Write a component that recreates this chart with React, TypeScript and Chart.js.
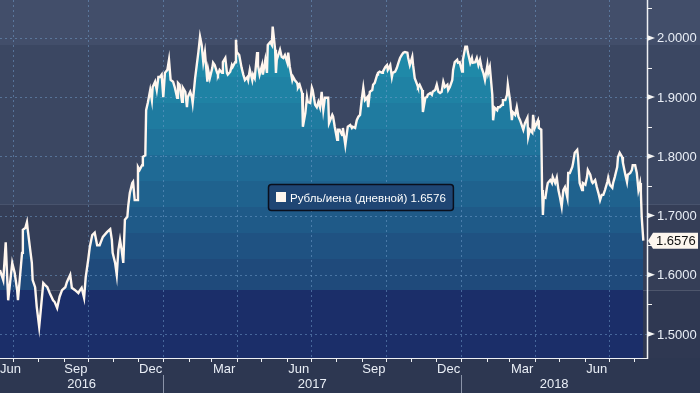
import React, { useEffect, useRef } from 'react';
import { Chart, registerables } from 'chart.js';

Chart.register(...registerables);

// ---- DATA ----
// day offsets counted from 15 Jun 2016
const DAYS = [
  0, 4, 6, 7, 10, 15, 18, 21, 22, 27, 28, 31, 33, 34, 37, 39, 40, 43, 45, 48,
  50, 53, 55, 58, 61, 65, 67, 70, 73, 76, 80, 82, 86, 88, 92, 96, 98, 100, 103, 105,
  108, 110, 113, 116, 119, 122, 126, 131, 135, 137, 138, 141, 143, 145, 147, 149, 151, 153, 156, 157,
  159, 162, 163, 165, 168, 169, 171, 174, 175, 178, 179, 181, 184, 186, 187, 190, 192, 194, 196, 198,
  200, 202, 205, 207, 209, 212, 214, 217, 218, 220, 223, 224, 227, 229, 230, 233, 235, 236, 239, 241,
  243, 245, 247, 249, 251, 254, 255, 257, 260, 261, 263, 266, 267, 269, 272, 273, 276, 278, 279, 282,
  284, 285, 288, 289, 290, 293, 296, 298, 300, 303, 304, 306, 309, 310, 312, 315, 316, 318, 321, 322,
  325, 327, 328, 331, 333, 334, 337, 338, 339, 343, 345, 347, 349, 352, 353, 355, 358, 359, 361, 364,
  365, 367, 370, 371, 374, 376, 377, 380, 382, 383, 386, 388, 390, 392, 394, 396, 398, 401, 402, 403,
  407, 408, 410, 413, 414, 416, 419, 420, 423, 425, 426, 429, 431, 432, 435, 437, 439, 441, 443, 445,
  447, 450, 451, 453, 456, 457, 459, 462, 463, 465, 468, 469, 472, 474, 475, 478, 480, 481, 484, 486,
  488, 490, 492, 494, 496, 499, 500, 502, 505, 506, 508, 511, 512, 514, 517, 518, 521, 523, 524, 527,
  529, 530, 533, 535, 537, 539, 541, 543, 545, 548, 549, 551, 554, 555, 557, 560, 561, 563, 566, 567,
  570, 572, 573, 576, 578, 579, 582, 584, 586, 588, 590, 592, 594, 597, 598, 600, 603, 604, 606, 609,
  610, 612, 615, 616, 619, 621, 622, 625, 627, 628, 631, 633, 635, 637, 639, 641, 643, 646, 647, 649,
  652, 653, 655, 658, 659, 660, 663, 664, 665, 666, 668, 670, 671, 674, 676, 677, 680, 682, 684, 686,
  688, 690, 692, 695, 696, 698, 701, 702, 704, 707, 708, 710, 713, 714, 717, 719, 720, 723, 725, 726,
  729, 731, 733, 735, 737, 739, 741, 744, 745, 747, 750, 751, 753, 756, 757, 759, 762, 763, 766, 768,
  769, 772, 774, 775, 778, 780, 782, 784, 785, 786, 788,
];

const RATE = [
  1.608, 1.591, 1.633, 1.655, 1.557, 1.620, 1.603, 1.574, 1.557, 1.637, 1.676, 1.679, 1.689, 1.676, 1.642, 1.620, 1.591, 1.579, 1.546, 1.512,
  1.541, 1.586, 1.583, 1.579, 1.569, 1.557, 1.554, 1.544, 1.563, 1.574, 1.579, 1.588, 1.600, 1.578, 1.574, 1.569, 1.574, 1.578, 1.561, 1.596,
  1.625, 1.647, 1.667, 1.671, 1.650, 1.650, 1.664, 1.672, 1.677, 1.659, 1.637, 1.620, 1.600, 1.642, 1.659, 1.642, 1.620, 1.693, 1.698, 1.715,
  1.738, 1.755, 1.757, 1.726, 1.726, 1.782, 1.777, 1.785, 1.799, 1.802, 1.878, 1.890, 1.912, 1.895, 1.917, 1.926, 1.912, 1.934, 1.934, 1.938,
  1.900, 1.941, 1.946, 1.963, 1.929, 1.926, 1.917, 1.899, 1.924, 1.921, 1.892, 1.916, 1.909, 1.883, 1.900, 1.909, 1.900, 1.890, 1.932, 1.954,
  1.976, 2.002, 1.988, 1.959, 1.976, 1.926, 1.946, 1.932, 1.949, 1.958, 1.954, 1.941, 1.938, 1.946, 1.941, 1.959, 1.966, 1.941, 1.938, 1.943,
  1.954, 1.951, 1.959, 1.997, 1.976, 1.971, 1.949, 1.938, 1.929, 1.934, 1.929, 1.946, 1.929, 1.938, 1.932, 1.976, 1.954, 1.938, 1.954, 1.938,
  1.963, 1.941, 1.988, 1.993, 1.988, 2.019, 1.980, 1.941, 1.963, 1.980, 1.968, 1.966, 1.971, 1.958, 1.975, 1.951, 1.929, 1.934, 1.929, 1.924,
  1.916, 1.921, 1.907, 1.850, 1.873, 1.900, 1.892, 1.890, 1.916, 1.912, 1.887, 1.883, 1.892, 1.883, 1.909, 1.878, 1.899, 1.899, 1.899, 1.856,
  1.870, 1.867, 1.850, 1.828, 1.845, 1.845, 1.836, 1.848, 1.819, 1.840, 1.850, 1.853, 1.848, 1.850, 1.848, 1.861, 1.867, 1.870, 1.895, 1.916,
  1.895, 1.900, 1.883, 1.909, 1.912, 1.921, 1.924, 1.938, 1.941, 1.943, 1.941, 1.943, 1.951, 1.954, 1.946, 1.954, 1.934, 1.941, 1.943, 1.949,
  1.958, 1.966, 1.971, 1.975, 1.976, 1.975, 1.966, 1.954, 1.968, 1.954, 1.932, 1.921, 1.917, 1.921, 1.912, 1.875, 1.899, 1.900, 1.904, 1.907,
  1.904, 1.909, 1.912, 1.921, 1.909, 1.907, 1.909, 1.926, 1.917, 1.921, 1.912, 1.917, 1.929, 1.946, 1.959, 1.963, 1.958, 1.959, 1.943, 1.963,
  1.985, 1.985, 1.976, 1.958, 1.966, 1.958, 1.959, 1.966, 1.954, 1.963, 1.949, 1.941, 1.929, 1.954, 1.941, 1.951, 1.904, 1.861, 1.882, 1.878,
  1.883, 1.883, 1.887, 1.895, 1.895, 1.904, 1.921, 1.892, 1.861, 1.875, 1.870, 1.883, 1.867, 1.861, 1.853, 1.845, 1.856, 1.865, 1.833, 1.845,
  1.840, 1.870, 1.848, 1.858, 1.861, 1.848, 1.845, 1.743, 1.701, 1.731, 1.730, 1.748, 1.755, 1.760, 1.755, 1.765, 1.755, 1.764, 1.743, 1.730,
  1.715, 1.743, 1.748, 1.730, 1.772, 1.772, 1.782, 1.789, 1.806, 1.811, 1.799, 1.755, 1.743, 1.755, 1.752, 1.765, 1.777, 1.769, 1.757, 1.755,
  1.760, 1.748, 1.738, 1.726, 1.735, 1.735, 1.743, 1.757, 1.764, 1.752, 1.747, 1.755, 1.765, 1.782, 1.799, 1.806, 1.799, 1.789, 1.769, 1.757,
  1.769, 1.772, 1.777, 1.785, 1.785, 1.772, 1.743, 1.755, 1.738, 1.698, 1.6576,
];

const SERIES_NAME = 'Рубль/иена (дневной)';
const LAST_VALUE = 1.6576;

const Y_TICKS = [1.5, 1.6, 1.7, 1.8, 1.9, 2.0];
const Y_MINOR = [1.55, 1.65, 1.75, 1.85, 1.95, 2.05];

const MONTH_LABELS = ['Jun', 'Sep', 'Dec', 'Mar', 'Jun', 'Sep', 'Dec', 'Mar', 'Jun'];
const MONTH_LABEL_DAYS = [0, 93, 184.5, 274.5, 366, 458, 549.5, 639.5, 731];
const MONTH_START_DAYS = [16, 47, 78, 108, 139, 169, 200, 231, 259, 290, 320, 351, 381, 412, 443, 473, 504, 534, 565, 596, 624, 655, 685, 716, 746, 777];
const QUARTER_DAYS = [16, 108, 200, 290, 381, 473, 565, 655, 746];
const YEAR_LABELS = ['2016', '2017', '2018'];
const YEAR_BOUNDS = [0, 200, 565, 792.5];

// ---- STYLE ----
const X_MAX = 792.5;
const Y_MIN = 1.4595;
const Y_MAX = 2.064;
const FAMILY = '"Liberation Sans", Arial, sans-serif';
const FONT = '13px ' + FAMILY;
const FILL_BOUNDS = [1.574, 1.626, 1.670, 1.714, 1.758, 1.802, 1.846, 1.890, 1.934];
const FILL_COLORS = ['#1b2e69', '#1f4a7b', '#1f5282', '#1f5a88', '#1f628e', '#1f6a95', '#1f739b', '#1f7ba0', '#1f82a4', '#1f89a8'];
const BG_BOUNDS = [1.988, 1.718, 1.574];
const BG_COLORS = ['#424e6a', '#3b4762', '#353e57', '#2f3852'];

function fillGradient(chart: any) {
  const area = chart.chartArea;
  if (!area) return FILL_COLORS[0];
  const y = chart.scales.y;
  const g = chart.ctx.createLinearGradient(0, area.bottom, 0, area.top);
  const h = area.bottom - area.top;
  const t = (v: number) => Math.min(1, Math.max(0, (area.bottom - y.getPixelForValue(v)) / h));
  const edges = [0, ...FILL_BOUNDS.map(t), 1];
  for (let i = 0; i < FILL_COLORS.length; i++) {
    g.addColorStop(edges[i], FILL_COLORS[i]);
    g.addColorStop(edges[i + 1], FILL_COLORS[i]);
  }
  return g;
}

const decorPlugin = {
  id: 'decor',
  beforeDraw(chart: any) {
    const { ctx, chartArea: a, scales } = chart;
    const y = scales.y;
    const W = chart.width;
    const H = chart.height;
    ctx.save();
    const ys = [0, ...BG_BOUNDS.map((v) => y.getPixelForValue(v)), a.bottom];
    for (let i = 0; i < BG_COLORS.length; i++) {
      ctx.fillStyle = BG_COLORS[i];
      ctx.fillRect(0, ys[i], W, ys[i + 1] - ys[i]);
    }
    ctx.fillStyle = '#2d3751';
    ctx.fillRect(0, a.bottom, W, H - a.bottom);
    ctx.restore();
  },
  afterDatasetDraw(chart: any, args: any) {
    if (args.index !== 0) return;
    const { ctx, chartArea: a, scales } = chart;
    ctx.save();
    ctx.strokeStyle = 'rgba(115,160,205,0.5)';
    ctx.lineWidth = 1;
    ctx.setLineDash([2, 3]);
    for (const v of Y_TICKS) {
      const py = Math.round(scales.y.getPixelForValue(v)) + 0.5;
      ctx.beginPath();
      ctx.moveTo(a.left, py);
      ctx.lineTo(a.right, py);
      ctx.stroke();
    }
    for (const d of QUARTER_DAYS) {
      const px = Math.round(scales.x.getPixelForValue(d)) + 0.5;
      ctx.beginPath();
      ctx.moveTo(px, a.top);
      ctx.lineTo(px, a.bottom);
      ctx.stroke();
    }
    ctx.restore();
  },
  afterDraw(chart: any) {
    const { ctx, chartArea: a, scales } = chart;
    const x = scales.x;
    const y = scales.y;
    const H = chart.height;
    ctx.save();
    ctx.setLineDash([]);
    // axis lines
    ctx.strokeStyle = '#eef0f4';
    ctx.lineWidth = 1.5;
    ctx.beginPath();
    ctx.moveTo(a.right + 0.5, 0);
    ctx.lineTo(a.right + 0.5, a.bottom + 1);
    ctx.stroke();
    ctx.lineWidth = 1;
    ctx.beginPath();
    ctx.moveTo(a.left, a.bottom + 0.5);
    ctx.lineTo(a.right + 1, a.bottom + 0.5);
    ctx.stroke();

    // y ticks
    ctx.fillStyle = '#f4f4f4';
    for (const v of Y_TICKS) {
      const py = y.getPixelForValue(v);
      ctx.beginPath();
      ctx.moveTo(a.right, py - 3);
      ctx.lineTo(a.right + 8, py);
      ctx.lineTo(a.right, py + 3);
      ctx.closePath();
      ctx.fill();
    }
    ctx.strokeStyle = '#f4f4f4';
    ctx.lineWidth = 1;
    for (const v of Y_MINOR) {
      const py = Math.round(y.getPixelForValue(v)) + 0.5;
      if (py > a.bottom) continue;
      ctx.beginPath();
      ctx.moveTo(a.right, py);
      ctx.lineTo(a.right + 5, py);
      ctx.stroke();
    }
    ctx.font = FONT;
    ctx.textBaseline = 'middle';
    ctx.textAlign = 'left';
    ctx.fillStyle = '#e9eef6';
    for (const v of Y_TICKS) {
      ctx.fillText(v.toFixed(4), a.right + 10, y.getPixelForValue(v) + 1);
    }

    // last value marker
    const ly = y.getPixelForValue(LAST_VALUE);
    ctx.fillStyle = '#fdf6ee';
    ctx.beginPath();
    ctx.moveTo(a.right + 1, ly);
    ctx.lineTo(a.right + 6, ly - 8);
    ctx.lineTo(a.right + 51, ly - 8);
    ctx.lineTo(a.right + 51, ly + 8);
    ctx.lineTo(a.right + 6, ly + 8);
    ctx.closePath();
    ctx.fill();
    ctx.fillStyle = '#111111';
    ctx.fillText(LAST_VALUE.toFixed(4), a.right + 9, ly + 1);

    // x ticks
    ctx.strokeStyle = '#eef0f4';
    for (const d of MONTH_START_DAYS) {
      const px = Math.round(x.getPixelForValue(d)) + 0.5;
      ctx.beginPath();
      ctx.moveTo(px, a.bottom);
      ctx.lineTo(px, a.bottom + 4);
      ctx.stroke();
    }
    ctx.fillStyle = '#e9eef6';
    ctx.textAlign = 'center';
    MONTH_LABELS.forEach((lab, i) => {
      let px = x.getPixelForValue(MONTH_LABEL_DAYS[i]);
      const w = ctx.measureText(lab).width;
      if (px - w / 2 < a.left) px = a.left + w / 2;
      ctx.fillText(lab, px, a.bottom + 11);
    });
    // year separators and labels
    ctx.strokeStyle = '#8a93a8';
    for (let i = 1; i < YEAR_BOUNDS.length - 1; i++) {
      const px = Math.round(x.getPixelForValue(YEAR_BOUNDS[i])) + 0.5;
      ctx.beginPath();
      ctx.moveTo(px, a.bottom + 17);
      ctx.lineTo(px, H);
      ctx.stroke();
    }
    ctx.fillStyle = '#e9eef6';
    YEAR_LABELS.forEach((lab, i) => {
      const p0 = x.getPixelForValue(YEAR_BOUNDS[i]);
      const p1 = x.getPixelForValue(YEAR_BOUNDS[i + 1]);
      ctx.fillText(lab, (p0 + p1) / 2, a.bottom + 26);
    });

    // legend box
    const text = SERIES_NAME + ' ' + LAST_VALUE.toFixed(4);
    const targetW = 156;
    const w13 = ctx.measureText(text).width;
    const fs = Math.min(13, (13 * targetW) / w13);
    ctx.font = fs.toFixed(2) + 'px ' + FAMILY;
    const tw = ctx.measureText(text).width;
    const bx = 268;
    const by = 184;
    const bw = 22 + tw + 7;
    const bh = 26;
    ctx.beginPath();
    (ctx as any).roundRect(bx + 0.5, by + 0.5, bw, bh, 3);
    ctx.fillStyle = '#1f4674';
    ctx.fill();
    ctx.strokeStyle = '#0a0f1c';
    ctx.lineWidth = 1.5;
    ctx.stroke();
    ctx.fillStyle = '#fdf6ee';
    ctx.fillRect(bx + 8, by + 8, 10, 10);
    ctx.fillStyle = '#ffffff';
    ctx.textAlign = 'left';
    ctx.fillText(text, bx + 22, by + bh / 2 + 1.5);
    ctx.restore();
  },
};

export default function App() {
  const ref = useRef<HTMLCanvasElement>(null);
  useEffect(() => {
    document.body.style.margin = '0';
    const points = DAYS.map((d, i) => ({ x: d, y: RATE[i] }));
    const chart = new Chart(ref.current as HTMLCanvasElement, {
      type: 'line',
      data: {
        datasets: [
          {
            label: 'fill',
            data: points,
            borderWidth: 0,
            pointRadius: 0,
            fill: 'start',
            backgroundColor: (c: any) => fillGradient(c.chart),
            order: 2,
          },
          {
            label: SERIES_NAME,
            data: points,
            borderColor: '#fff6ee',
            borderWidth: 2.4,
            pointRadius: 0,
            fill: false,
            tension: 0,
            order: 1,
          },
        ],
      },
      options: {
        animation: false,
        responsive: false,
        maintainAspectRatio: false,
        layout: { padding: { left: 0, top: 0, right: 53, bottom: 35 } },
        scales: {
          x: { type: 'linear', min: 0, max: X_MAX, display: false },
          y: { type: 'linear', min: Y_MIN, max: Y_MAX, display: false },
        },
        plugins: { legend: { display: false }, tooltip: { enabled: false } },
      },
      plugins: [decorPlugin],
    } as any);
    return () => chart.destroy();
  }, []);
  return (
    <div style={{ width: 700, height: 393 }}>
      <canvas ref={ref} width={700} height={393} style={{ display: 'block', width: 700, height: 393 }} />
    </div>
  );
}
